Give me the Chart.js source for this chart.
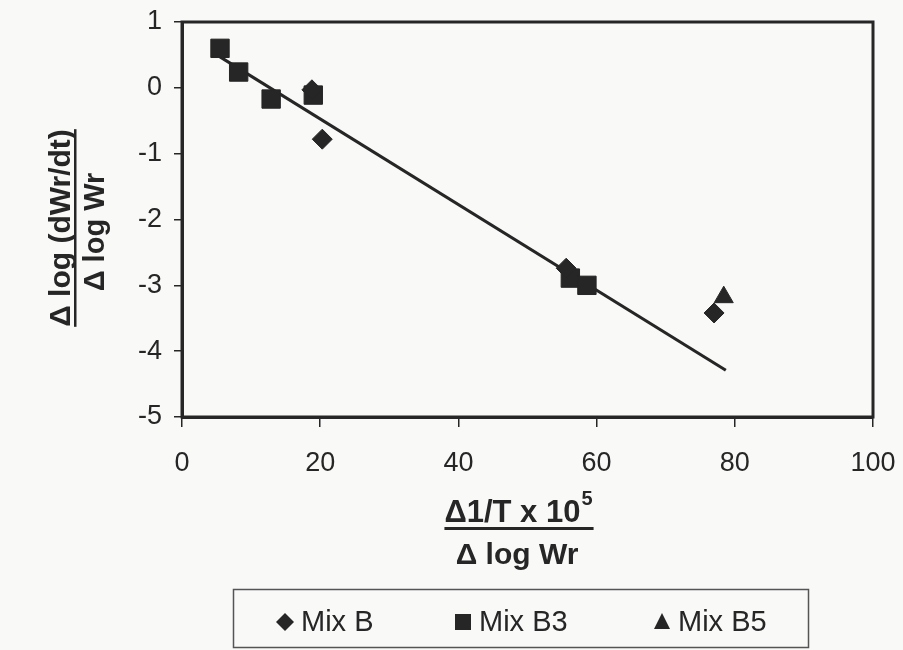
<!DOCTYPE html>
<html>
<head>
<meta charset="utf-8">
<script src="https://cdn.jsdelivr.net/npm/chart.js@4/dist/chart.umd.min.js"></script>
<style>
  body { margin: 0; background: #f9f9f8; }
  canvas { display: block; }
</style>
</head>
<body>
<canvas id="chart" width="903" height="650"></canvas>
<script>
// values
var mixBX = [18.8, 20.3, 55.6, 77.0];
var mixBY = [-0.03, -0.78, -2.74, -3.42];
var mixB3X = [5.5, 8.2, 12.9, 19.0, 56.2, 58.6];
var mixB3Y = [0.6, 0.24, -0.17, -0.11, -2.89, -3.0];
var mixB5X = [78.4];
var mixB5Y = [-3.18];
var fitX = [5.5, 78.7];
var fitY = [0.47, -4.29];
var xTicks = [0, 20, 40, 60, 80, 100];
var yTicks = [1, 0, -1, -2, -3, -4, -5];

var ink = "#262626";
var font = "'Liberation Sans', Arial, sans-serif";

function pts(xs, ys) {
    return xs.map((x, i) => ({ x: x, y: ys[i] }));
}

/* frame, axis titles and boxed legend like the printed figure */
var decor = {
    id: "decor",
    afterDraw(chart) {
        var ctx = chart.ctx;
        var a = chart.chartArea;
        ctx.save();
        ctx.strokeStyle = ink;
        ctx.lineWidth = 3;
        ctx.strokeRect(a.left, a.top, a.right - a.left, a.bottom - a.top);

        ctx.fillStyle = ink;
        ctx.textAlign = "center";
        ctx.textBaseline = "middle";

        // y title (fraction, rotated)
        ctx.save();
        ctx.translate(62, 228);
        ctx.rotate(-Math.PI / 2);
        ctx.font = "bold 30px " + font;
        var num = "\u0394 log (dWr/dt)";
        var w = ctx.measureText(num).width;
        ctx.fillText(num, 0, 0);
        ctx.fillRect(-w / 2, 12, w, 2.5);
        ctx.font = "bold 29px " + font;
        ctx.fillText("\u0394 log Wr", -4, 34);
        ctx.restore();

        // x title (fraction)
        ctx.font = "bold 31px " + font;
        var t1 = "\u03941/T x 10";
        var w1 = ctx.measureText(t1).width;
        ctx.font = "bold 20px " + font;
        var w2 = ctx.measureText("5").width;
        var left = 518 - (w1 + w2) / 2;
        ctx.textAlign = "left";
        ctx.font = "bold 31px " + font;
        ctx.fillText(t1, left, 513);
        ctx.font = "bold 20px " + font;
        ctx.fillText("5", left + w1 + 1, 499);
        ctx.fillRect(left, 527, w1 + w2 + 2, 3);
        ctx.textAlign = "center";
        ctx.font = "bold 30px " + font;
        ctx.fillText("\u0394 log Wr", 517, 556);

        // legend box
        ctx.lineWidth = 1.5;
        ctx.strokeStyle = "#555";
        ctx.strokeRect(233.5, 589.5, 575, 58);
        var items = chart.data.datasets.filter(d => d.pointStyle !== false);
        var mx = [285, 463, 662];
        ctx.font = "29px " + font;
        ctx.textAlign = "left";
        items.forEach((d, i) => {
            var x = mx[i], y = 622;
            ctx.beginPath();
            if (d.pointStyle === "rectRot") {
                ctx.moveTo(x - 9, y); ctx.lineTo(x, y - 9); ctx.lineTo(x + 9, y); ctx.lineTo(x, y + 9);
            } else if (d.pointStyle === "rect") {
                ctx.rect(x - 8, y - 8, 16, 16);
            } else {
                ctx.moveTo(x - 8, y + 7); ctx.lineTo(x, y - 9); ctx.lineTo(x + 8, y + 7);
            }
            ctx.closePath();
            ctx.fill();
            ctx.fillText(d.label, x + 16, y + 1);
        });
        ctx.restore();
    }
};

new Chart(document.getElementById("chart"), {
    type: "scatter",
    data: {
        datasets: [
            {
                label: "Mix B",
                data: pts(mixBX, mixBY),
                pointStyle: "rectRot",
                pointRadius: 10,
                backgroundColor: ink,
                borderColor: ink,
                order: 1
            },
            {
                label: "Mix B3",
                data: pts(mixB3X, mixB3Y),
                pointStyle: "rect",
                pointRadius: 13,
                backgroundColor: ink,
                borderColor: ink,
                order: 2
            },
            {
                label: "Mix B5",
                data: pts(mixB5X, mixB5Y),
                pointStyle: "triangle",
                pointRadius: 11,
                backgroundColor: ink,
                borderColor: ink,
                order: 0
            },
            {
                type: "line",
                label: "fit",
                data: pts(fitX, fitY),
                pointStyle: false,
                pointRadius: 0,
                borderColor: ink,
                borderWidth: 3,
                fill: false,
                order: 10
            }
        ]
    },
    options: {
        responsive: false,
        animation: false,
        layout: { padding: { top: 22, right: 30, left: 0, bottom: 0 } },
        plugins: {
            legend: { display: false },
            tooltip: { enabled: false }
        },
        scales: {
            x: {
                type: "linear",
                min: 0,
                max: 100,
                afterFit: s => { s.height = 233; s.paddingLeft = 0; s.paddingRight = 0; },
                afterBuildTicks: s => { s.ticks = xTicks.map(v => ({ value: v })); },
                grid: { drawOnChartArea: false, tickLength: 10, color: ink, lineWidth: 1.5 },
                border: { color: ink, width: 3 },
                ticks: { color: ink, padding: 20, font: { family: font, size: 27 } }
            },
            y: {
                min: -5,
                max: 1,
                afterFit: s => { s.width = 182; s.paddingTop = 0; s.paddingBottom = 0; },
                afterBuildTicks: s => { s.ticks = yTicks.map(v => ({ value: v })); },
                grid: { drawOnChartArea: false, tickLength: 8, color: ink, lineWidth: 1.5 },
                border: { color: ink, width: 3 },
                ticks: { color: ink, padding: 12, font: { family: font, size: 27 } }
            }
        }
    },
    plugins: [decor]
});
</script>
</body>
</html>
